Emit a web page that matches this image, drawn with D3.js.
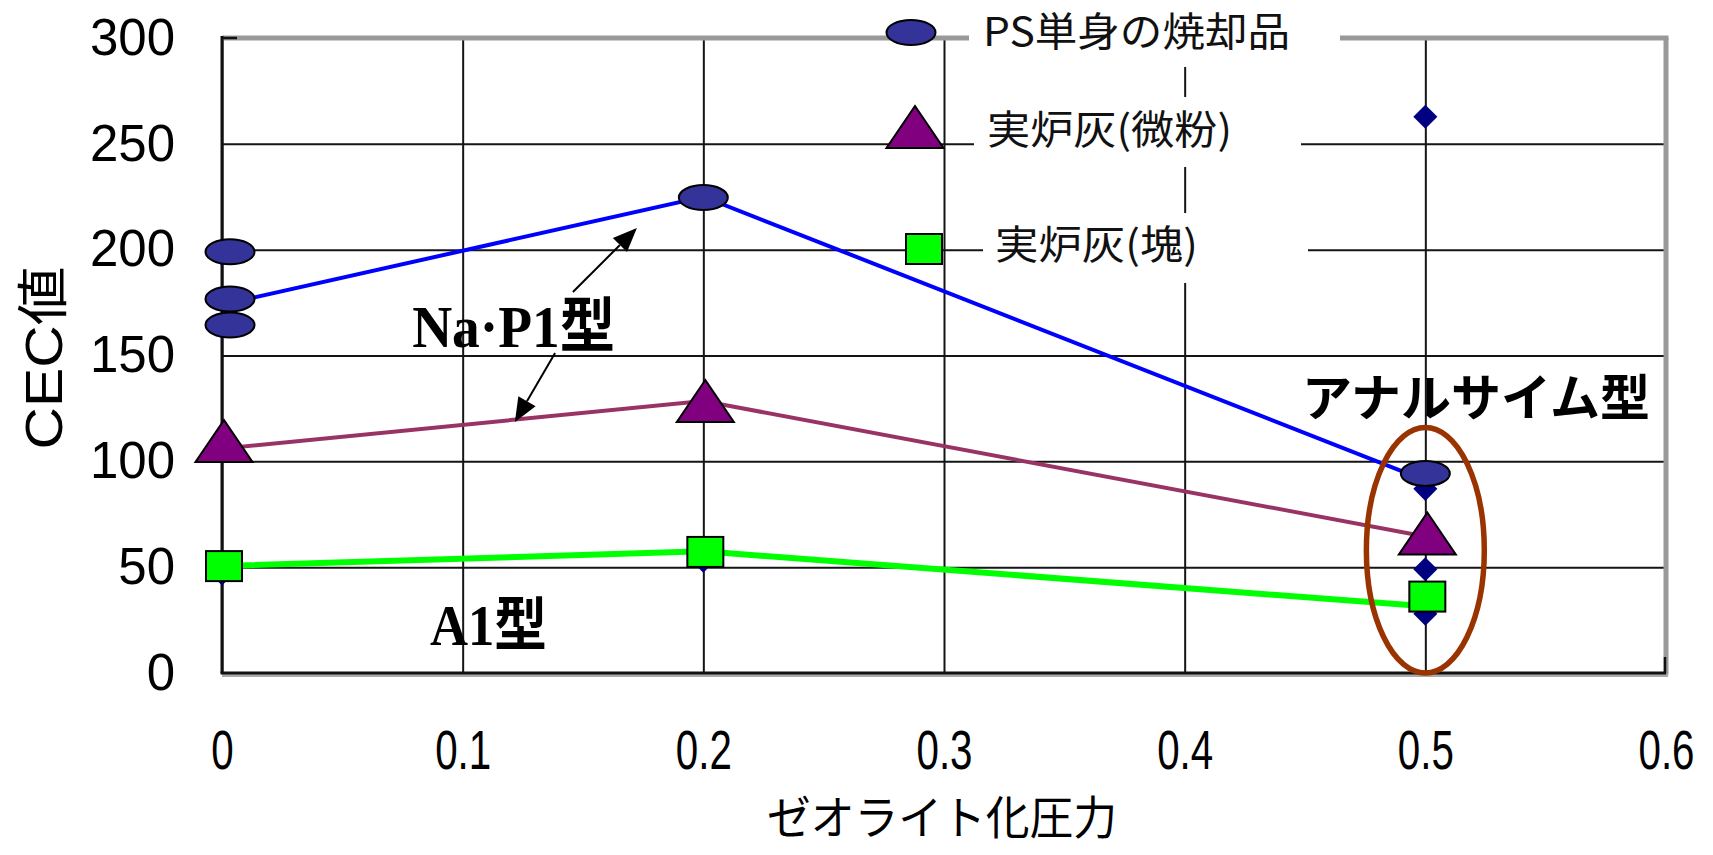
<!DOCTYPE html>
<html>
<head>
<meta charset="utf-8">
<script src="https://cdn.jsdelivr.net/npm/d3@7"></script>
<style>
  html, body { margin: 0; padding: 0; background: #fff; }
  svg { display: block; }
</style>
</head>
<body>
<svg id="chart" width="1713" height="855"></svg>
<script>
// Axis ticks and labels
const xTicks = [0, 0.1, 0.2, 0.3, 0.4, 0.5, 0.6];
const xTickLabels = ["0", "0.1", "0.2", "0.3", "0.4", "0.5", "0.6"];
const yTicks = [0, 50, 100, 150, 200, 250, 300];
const yTickLabels = ["0", "50", "100", "150", "200", "250", "300"];

// Series names
const seriesNames = ["PS単身の焼却品", "実炉灰(微粉)", "実炉灰(塊)"];

// Measured CEC values per sample (zeolite pressure, CEC)
const psX = [0, 0, 0, 0.2, 0.5];
const psY = [199, 176.7, 164.4, 224.6, 94.3];
const fineX = [0, 0.2, 0.5];
const fineY = [109.6, 128.5, 65.9];
const lumpX = [0, 0.2, 0.5];
const lumpY = [50.5, 57.2, 36.1];

// Trend lines connecting the groups
const trendX = [0, 0.2, 0.5];
const psTrend = [174, 225, 91];
const fineTrend = [106, 128.5, 64.5];
const lumpTrend = [50.5, 57.5, 31.5];

// Underlying raw measurement points (small diamonds)
const rawX = [0, 0, 0, 0.2, 0.5, 0.5, 0.5, 0.5];
const rawY = [198, 163.5, 47, 53, 262.8, 87, 49, 28];

const svg = d3.select("#chart");
const pLeft = 222, pRight = 1666, pTop = 38, pBottom = 673;
const x = d3.scaleLinear().domain([0, 0.6]).range([pLeft, pRight]);
const y = d3.scaleLinear().domain([0, 300]).range([pBottom, pTop]);

// Gridlines
const grid = svg.append("g");
grid.append("g")
  .attr("transform", `translate(${pLeft},0)`)
  .call(d3.axisLeft(y).tickValues(yTicks).tickSize(-(pRight - pLeft)).tickFormat(""))
  .call(g => g.select(".domain").remove())
  .call(g => g.selectAll("line").attr("stroke", "#151515").attr("stroke-width", 2));
grid.append("g")
  .attr("transform", `translate(0,${pBottom})`)
  .call(d3.axisBottom(x).tickValues(xTicks).tickSize(-(pBottom - pTop)).tickFormat(""))
  .call(g => g.select(".domain").remove())
  .call(g => g.selectAll("line").attr("stroke", "#151515").attr("stroke-width", 2));

// Plot frame: grey top/right, black left/bottom
svg.append("line").attr("x1", pLeft).attr("x2", pRight + 2.5).attr("y1", pTop).attr("y2", pTop)
  .attr("stroke", "#999").attr("stroke-width", 5);
svg.append("line").attr("x1", pRight).attr("x2", pRight).attr("y1", pTop).attr("y2", pBottom + 2)
  .attr("stroke", "#999").attr("stroke-width", 5);
svg.append("line").attr("x1", pLeft).attr("x2", pRight + 2).attr("y1", pBottom + 2.5).attr("y2", pBottom + 2.5)
  .attr("stroke", "#aaa").attr("stroke-width", 3);
svg.append("line").attr("x1", pLeft - 1.5).attr("x2", pRight).attr("y1", pBottom).attr("y2", pBottom)
  .attr("stroke", "#111").attr("stroke-width", 3);
svg.append("line").attr("x1", pLeft).attr("x2", pLeft).attr("y1", pTop - 2).attr("y2", pBottom)
  .attr("stroke", "#111").attr("stroke-width", 3);
// inner tick stubs at the far ends
svg.append("line").attr("x1", pLeft).attr("x2", pLeft + 15).attr("y1", y(300)).attr("y2", y(300))
  .attr("stroke", "#111").attr("stroke-width", 2.5);
svg.append("line").attr("x1", x(0.6) - 1).attr("x2", x(0.6) - 1).attr("y1", pBottom).attr("y2", pBottom - 16)
  .attr("stroke", "#111").attr("stroke-width", 2.5);

// Y tick labels
svg.append("g")
  .attr("transform", `translate(${pLeft},0)`)
  .call(d3.axisLeft(y).tickValues(yTicks).tickSize(0).tickPadding(47)
    .tickFormat((d, i) => yTickLabels[i]))
  .call(g => g.select(".domain").remove())
  .call(g => g.selectAll("text")
    .attr("font-family", "'Liberation Sans', Arial, sans-serif")
    .attr("font-size", 51).attr("fill", "#000"));

// X tick labels (condensed)
svg.append("g")
  .attr("transform", `translate(0,${pBottom})`)
  .call(d3.axisBottom(x).tickValues(xTicks).tickSize(0).tickPadding(56)
    .tickFormat((d, i) => xTickLabels[i]))
  .call(g => g.select(".domain").remove())
  .call(g => g.selectAll("text")
    .attr("font-family", "'Liberation Sans', Arial, sans-serif")
    .attr("font-size", 56).attr("fill", "#000")
    .attr("transform", "scale(0.72,1)"));

// Axis titles
svg.append("text")
  .attr("transform", "translate(44,358) rotate(-90)")
  .attr("text-anchor", "middle").attr("dominant-baseline", "central")
  .attr("font-family", "'Liberation Sans', 'Noto Sans CJK JP', sans-serif")
  .attr("font-size", 52).attr("textLength", 183).attr("lengthAdjust", "spacingAndGlyphs")
  .text("CEC値");
svg.append("text")
  .attr("x", 942).attr("y", 814)
  .attr("text-anchor", "middle").attr("dominant-baseline", "central")
  .attr("font-family", "'Noto Sans CJK JP', sans-serif")
  .attr("font-size", 46).attr("textLength", 350).attr("lengthAdjust", "spacingAndGlyphs")
  .text("ゼオライト化圧力");

// Trend lines
const line = d3.line().x((d, i) => x(trendX[i])).y(d => y(d));
svg.append("path").attr("d", line(lumpTrend)).attr("fill", "none")
  .attr("stroke", "#00FF00").attr("stroke-width", 6);
svg.append("path").attr("d", line(fineTrend)).attr("fill", "none")
  .attr("stroke", "#993366").attr("stroke-width", 4);
svg.append("path").attr("d", line(psTrend)).attr("fill", "none")
  .attr("stroke", "#0000FF").attr("stroke-width", 4);

// Raw points (diamonds)
svg.append("g").selectAll("path").data(rawY).join("path")
  .attr("d", d3.symbol(d3.symbolSquare, 290)())
  .attr("transform", (d, i) => `translate(${x(rawX[i])},${y(d)}) rotate(45)`)
  .attr("fill", "#000080");

// Marker shapes
const triPath = "M0,-21L28.5,21L-28.5,21Z";
function ellipseMarker(g, cx, cy) {
  g.append("ellipse").attr("cx", cx).attr("cy", cy).attr("rx", 24.5).attr("ry", 12.5)
    .attr("fill", "#333399").attr("stroke", "#000").attr("stroke-width", 2);
}
function triMarker(g, cx, cy) {
  g.append("path").attr("d", triPath).attr("transform", `translate(${cx},${cy})`)
    .attr("fill", "#800080").attr("stroke", "#000").attr("stroke-width", 2);
}
function squareMarker(g, cx, cy) {
  g.append("rect").attr("x", cx - 18).attr("y", cy - 15).attr("width", 36).attr("height", 30)
    .attr("fill", "#00FF00").attr("stroke", "#000").attr("stroke-width", 2);
}

const marks = svg.append("g");
lumpY.forEach((v, i) => squareMarker(marks, x(lumpX[i]) + 2, y(v)));
fineY.forEach((v, i) => triMarker(marks, x(fineX[i]) + 2, y(v)));
psY.forEach((v, i) => ellipseMarker(marks, x(psX[i]) + (psX[i] === 0 ? 8 : 0), y(v)));

// Legend
const legend = svg.append("g");
const legendBoxes = [[969, 0, 371, 67], [974, 97, 327, 70], [983, 213, 325, 70]];
legendBoxes.forEach(b => legend.append("rect")
  .attr("x", b[0]).attr("y", b[1]).attr("width", b[2]).attr("height", b[3]).attr("fill", "#fff"));
ellipseMarker(legend, 911, 32.5);
triMarker(legend, 915, 127);
squareMarker(legend, 924, 249);
const legendText = [[983, 29, 307], [987, 127, 245], [995, 242, 203]];
legendText.forEach((t, i) => legend.append("text")
  .attr("x", t[0]).attr("y", t[1]).attr("dominant-baseline", "central")
  .attr("font-family", "'Noto Sans CJK JP', sans-serif").attr("font-size", 40)
  .attr("textLength", t[2]).attr("lengthAdjust", "spacingAndGlyphs")
  .attr("fill", "#111")
  .text(seriesNames[i]));

// Annotations
const ann = svg.append("g");
ann.append("ellipse")
  .attr("cx", x(0.5)).attr("cy", y(58))
  .attr("rx", x(0.5245) - x(0.5)).attr("ry", y(0) - y(58))
  .attr("fill", "none").attr("stroke", "#993300").attr("stroke-width", 5.5);

function arrow(x1, y1, x2, y2) {
  const ax = x(x1), ay = y(y1), bx = x(x2), by = y(y2);
  const ang = Math.atan2(by - ay, bx - ax);
  const L = 24, W = 10;
  const hx = bx - L * Math.cos(ang), hy = by - L * Math.sin(ang);
  ann.append("line").attr("x1", ax).attr("y1", ay).attr("x2", hx).attr("y2", hy)
    .attr("stroke", "#000").attr("stroke-width", 2);
  ann.append("path")
    .attr("d", `M${bx},${by}L${hx - W * Math.sin(ang)},${hy + W * Math.cos(ang)}L${hx + W * Math.sin(ang)},${hy - W * Math.cos(ang)}Z`)
    .attr("fill", "#000");
}
arrow(0.1458, 180, 0.1724, 210.2);
arrow(0.1384, 151.2, 0.1217, 118.6);

ann.append("text")
  .attr("x", x(0.079)).attr("y", y(154))
  .attr("font-family", "'Liberation Serif', 'Noto Sans CJK JP', serif")
  .attr("font-weight", "bold").attr("font-size", 60)
  .attr("textLength", 203).attr("lengthAdjust", "spacingAndGlyphs")
  .text("Na·P1型");
ann.append("text")
  .attr("x", x(0.0864)).attr("y", y(13))
  .attr("font-family", "'Liberation Serif', 'Noto Sans CJK JP', serif")
  .attr("font-weight", "bold").attr("font-size", 58)
  .attr("textLength", 117).attr("lengthAdjust", "spacingAndGlyphs")
  .text("A1型");
ann.append("text")
  .attr("x", x(0.5211)).attr("y", y(132))
  .attr("text-anchor", "middle").attr("dominant-baseline", "central")
  .attr("font-family", "'Noto Sans CJK JP', sans-serif")
  .attr("font-weight", "bold").attr("font-size", 50)
  .attr("textLength", 348).attr("lengthAdjust", "spacingAndGlyphs")
  .text("アナルサイム型");
</script>
</body>
</html>
